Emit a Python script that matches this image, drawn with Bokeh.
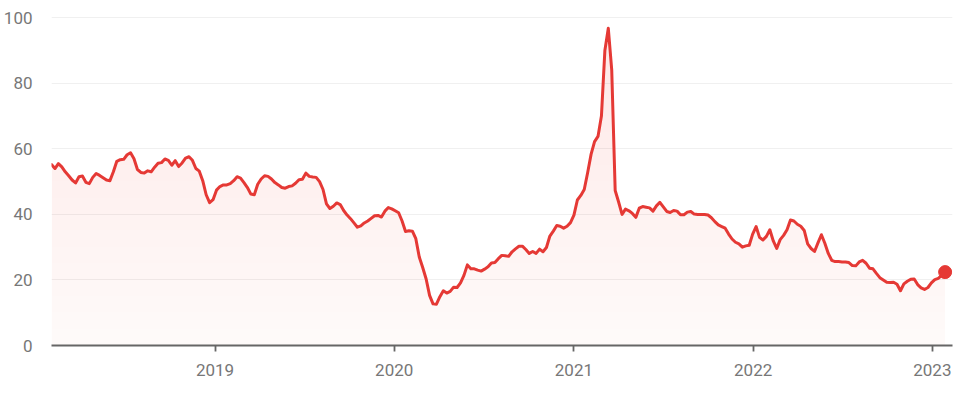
import numpy as np
import pandas as pd
from bokeh.plotting import figure
from bokeh.models import Range1d, FixedTicker, DatetimeTickFormatter
from bokeh.embed import file_html
from bokeh.resources import INLINE

# ---- data (weekly values) ----
start_date = "2018-02-02"
values = [
    55.2, 54.0, 55.5, 54.5, 53.0, 51.8, 50.5, 49.6, 51.5, 51.7,
    49.8, 49.4, 51.3, 52.5, 51.9, 51.2, 50.5, 50.3, 53.0, 56.2,
    56.7, 56.8, 58.2, 58.8, 57.0, 53.7, 52.8, 52.6, 53.3, 53.0,
    54.4, 55.6, 55.8, 56.9, 56.5, 55.0, 56.4, 54.6, 55.7, 57.2,
    57.6, 56.5, 54.0, 53.2, 50.3, 46.0, 43.6, 44.5, 47.4, 48.5,
    49.0, 49.0, 49.4, 50.3, 51.5, 51.1, 49.7, 48.2, 46.2, 46.0,
    49.2, 50.8, 51.8, 51.6, 50.8, 49.7, 49.0, 48.2, 48.0, 48.5,
    48.7, 49.5, 50.6, 50.7, 52.6, 51.6, 51.4, 51.3, 50.0, 47.6,
    43.2, 41.8, 42.5, 43.5, 43.0, 41.2, 39.8, 38.7, 37.4, 36.1,
    36.5, 37.4, 38.0, 38.8, 39.6, 39.7, 39.2, 41.0, 42.1, 41.7,
    41.1, 40.5, 38.0, 34.8, 35.0, 34.9, 32.6, 27.0, 23.8, 20.3,
    15.3, 12.7, 12.6, 14.9, 16.7, 16.0, 16.5, 17.8, 17.7, 19.1,
    21.4, 24.6, 23.4, 23.4, 23.0, 22.7, 23.3, 24.0, 25.2, 25.3,
    26.5, 27.5, 27.4, 27.2, 28.6, 29.5, 30.3, 30.3, 29.3, 28.1,
    28.7, 28.1, 29.4, 28.6, 29.9, 33.4, 34.9, 36.6, 36.4, 35.8,
    36.4, 37.5, 39.8, 44.4, 45.8, 47.6, 52.8, 58.4, 62.2, 63.8,
    70.0, 90.0, 96.8, 84.0, 47.3, 43.8, 40.0, 41.6, 41.1, 40.3,
    39.1, 41.9, 42.4, 42.2, 42.0, 41.0, 42.6, 43.7, 42.3, 40.9,
    40.6, 41.2, 41.0, 39.9, 39.9, 40.7, 40.9, 40.1, 40.0, 40.0,
    40.0, 39.8, 39.0, 37.8, 36.8, 36.3, 35.8, 34.0, 32.5, 31.5,
    31.0, 30.0, 30.4, 30.6, 34.0, 36.3, 33.0, 32.2, 33.3, 35.3,
    31.9, 29.6, 32.3, 33.6, 35.3, 38.3, 38.0, 37.0, 36.4, 35.1,
    31.0, 29.6, 28.7, 31.3, 33.8, 31.2, 28.1, 26.0, 25.6, 25.6,
    25.5, 25.5, 25.3, 24.4, 24.3, 25.5, 26.0, 25.1, 23.6, 23.4,
    22.0, 20.7, 20.0, 19.3, 19.2, 19.3, 18.7, 16.7, 18.8, 19.6,
    20.2, 20.3, 18.6, 17.6, 17.1, 17.7, 19.1, 20.1, 20.5, 21.4,
    22.4,
]
year_ticks = [2019, 2020, 2021, 2022, 2023]
y_ticks = [0, 20, 40, 60, 80, 100]

# ---- styling ----
RED = "#e53935"
FONT = "Roboto"
LABEL_COLOR = "#777777"

dates = pd.date_range(start_date, periods=len(values), freq="7D")
v = np.array(values, dtype=float)

p = figure(
    width=960, height=392,
    x_axis_type="datetime",
    x_range=Range1d(dates[0], dates[-1] + pd.Timedelta(days=15)),
    y_range=Range1d(0, 101),
    output_backend="svg", toolbar_location=None,
    min_border_left=46, min_border_right=8,
    min_border_top=14, min_border_bottom=47,
)
p.outline_line_color = None
p.background_fill_color = "white"
p.border_fill_color = "white"

# gradient-like fill: base layer plus stacked faint layers above levels
p.varea(x=dates, y1=np.zeros_like(v), y2=v, fill_color=RED, fill_alpha=0.026)
for lvl in range(5, 100, 5):
    p.varea(x=dates, y1=np.minimum(v, lvl), y2=v, fill_color=RED, fill_alpha=0.0056)

p.line(dates, v, line_color=RED, line_width=3, line_join="round", line_cap="round")
p.scatter([dates[-1]], [v[-1]], size=13, fill_color=RED, line_color=RED, line_width=1)

# axes
year_ms = [pd.Timestamp(f"{y}-01-01").value / 1e6 for y in year_ticks]
p.xaxis.ticker = FixedTicker(ticks=year_ms)
fmt = "%Y"
p.xaxis.formatter = DatetimeTickFormatter(
    years=fmt, months=fmt, days=fmt, hours=fmt, minutes=fmt,
    seconds=fmt, milliseconds=fmt, microseconds=fmt, hourmin=fmt, minsec=fmt)
p.xaxis.axis_line_color = "#666666"
p.xaxis.axis_line_width = 1.8
p.xaxis.major_tick_line_color = "#666666"
p.xaxis.major_tick_line_width = 1.8
p.xaxis.major_tick_in = 0
p.xaxis.major_tick_out = 6
p.xaxis.minor_tick_line_color = None
p.xaxis.major_label_standoff = 12
p.xaxis.major_label_text_font = FONT
p.xaxis.major_label_text_font_size = "17px"
p.xaxis.major_label_text_color = LABEL_COLOR

p.yaxis.ticker = FixedTicker(ticks=y_ticks)
p.yaxis.axis_line_color = None
p.yaxis.major_tick_line_color = None
p.yaxis.minor_tick_line_color = None
p.yaxis.major_label_standoff = 13
p.yaxis.major_label_text_font = FONT
p.yaxis.major_label_text_font_size = "17px"
p.yaxis.major_label_text_color = LABEL_COLOR

p.xgrid.grid_line_color = None
p.ygrid.grid_line_color = "#f0f0f0"
p.ygrid.grid_line_width = 1

open("out.html", "w").write(file_html(p, INLINE))
